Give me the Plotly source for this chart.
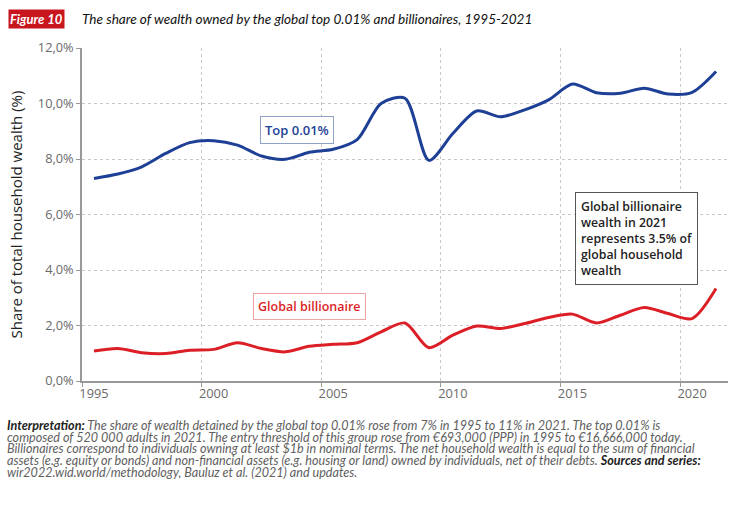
import plotly.graph_objects as go

years = list(range(1995, 2022))
top001 = [7.30, 7.46, 7.72, 8.20, 8.59, 8.66, 8.50, 8.11, 7.99, 8.24, 8.35, 8.70,
          10.00, 10.19, 7.95, 8.92, 9.73, 9.52, 9.77, 10.13, 10.70, 10.39, 10.37,
          10.55, 10.34, 10.40, 11.15]
billionaire = [1.08, 1.17, 1.02, 0.99, 1.11, 1.14, 1.38, 1.17, 1.05, 1.25, 1.32, 1.38,
               1.77, 2.09, 1.20, 1.65, 1.98, 1.89, 2.07, 2.29, 2.41, 2.09, 2.37,
               2.65, 2.43, 2.25, 3.33]
y_ticks = [0, 2, 4, 6, 8, 10, 12]
y_ticklabels = ["0,0%", "2,0%", "4,0%", "6,0%", "8,0%", "10,0%", "12,0%"]
x_ticks = [1995, 2000, 2005, 2010, 2015, 2020]
x_ticklabels = ["1995", "2000", "2005", "2010", "2015", "2020"]

BLUE = "#1d3f95"
RED = "#dc1f26"
TICKFONT = dict(family="Open Sans", size=12.8, color="#6a6a6a")

L, R, T, B = 82, 21, 48, 128
W, H = 749, 509
PW, PH = W - L - R, H - T - B


def px_x(px):
    return (px - L) / PW


def px_y(py):
    return (H - B - py) / PH


fig = go.Figure()
fig.add_trace(go.Scatter(x=years, y=top001, mode="lines", name="Top 0.01%",
                         line=dict(color=BLUE, width=3, shape="spline", smoothing=0.8)))
fig.add_trace(go.Scatter(x=years, y=billionaire, mode="lines", name="Global billionaire",
                         line=dict(color=RED, width=3, shape="spline", smoothing=0.8)))

fig.update_layout(
    width=W, height=H,
    margin=dict(l=L, r=R, t=T, b=B, autoexpand=False),
    paper_bgcolor="white", plot_bgcolor="white",
    showlegend=False,
    xaxis=dict(range=[1994.5, 2021.5], tickvals=x_ticks, ticktext=x_ticklabels,
               ticks="", showgrid=False, zeroline=False, automargin=False,
               showline=True, linecolor="#999", linewidth=1.5,
               tickfont=TICKFONT,
               minor=dict(tickmode="linear", tick0=1999.5, dtick=5, showgrid=True,
                          gridcolor="#c8c8c8", griddash="dot", gridwidth=1,
                          ticks="outside", ticklen=4, tickcolor="#999")),
    yaxis=dict(range=[0, 12], tickvals=y_ticks, ticktext=y_ticklabels,
               ticks="outside", ticklen=4, tickcolor="#999", automargin=False,
               showgrid=True, gridcolor="#c8c8c8", griddash="dot", gridwidth=1,
               zeroline=False, showline=True, linecolor="#999", linewidth=1.5,
               tickfont=TICKFONT,
               title=dict(text="Share of total household wealth (%)",
                          font=dict(family="Open Sans", size=15, color="#222"),
                          standoff=12)),
)

anns = [
    dict(x=2003.5, y=9.04, xref="x", yref="y", text="Top 0.01%", showarrow=False,
         font=dict(family="Open Sans", size=13, color=BLUE, weight=600),
         bordercolor="#8fa3c8", borderwidth=1, borderpad=4, bgcolor="white"),
    dict(x=2004.0, y=2.68, xref="x", yref="y", text="Global billionaire", showarrow=False,
         font=dict(family="Open Sans", size=12.5, color=RED, weight=600),
         bordercolor="#eaa4a4", borderwidth=1, borderpad=4, bgcolor="white"),
    dict(x=2017.67, y=5.13, xref="x", yref="y",
         text="Global billionaire<br>wealth in 2021<br>represents 3.5% of<br>global household<br>wealth",
         align="left", showarrow=False,
         font=dict(family="Open Sans", size=12.3, color="#222", weight=600),
         bordercolor="#555", borderwidth=1, borderpad=5, bgcolor="white"),
    dict(x=px_x(8), y=px_y(19.5), xref="paper", yref="paper",
         xanchor="left", yanchor="middle", text="<b><i>Figure 10</i></b>", showarrow=False,
         font=dict(family="Lato", size=13, color="white"), bgcolor="#c8161e", borderpad=1),
    dict(x=px_x(80), y=px_y(19.5), xref="paper", yref="paper",
         xanchor="left", yanchor="middle",
         text="<i>The share of wealth owned by the global top 0.01% and billionaires, 1995-2021</i>",
         showarrow=False, font=dict(family="Lato", size=13.6, color="#111")),
]

note_lines = [
    "<b style='color:#222'>Interpretation:</b> The share of wealth detained by the global top 0.01% rose from 7% in 1995 to 11% in 2021. The top 0.01% is",
    "composed of 520 000 adults in 2021. The entry threshold of this group rose from €693,000 (PPP) in 1995 to €16,666,000 today.",
    "Billionaires correspond to individuals owning at least $1b in nominal terms. The net household wealth is equal to the sum of financial",
    "assets (e.g. equity or bonds) and non-financial assets (e.g. housing or land) owned by individuals, net of their debts. <b style='color:#222'>Sources and series:</b>",
    "wir2022.wid.world/methodology, Bauluz et al. (2021) and updates.",
]
# small base font sets the line spacing (1.3em), the spans carry the visible size
note_text = "<br>".join("<span style='font-size:12.6px'><i>" + t + "</i></span>" for t in note_lines)
anns.append(dict(x=px_x(5), y=px_y(416), xref="paper", yref="paper",
                 xanchor="left", yanchor="top", text=note_text,
                 showarrow=False, align="left",
                 font=dict(family="Lato", size=9.0, color="#606060")))

fig.update_layout(annotations=anns)
fig.write_html("out.html", config={"displayModeBar": False},
               post_script="document.body.style.margin='0';")
